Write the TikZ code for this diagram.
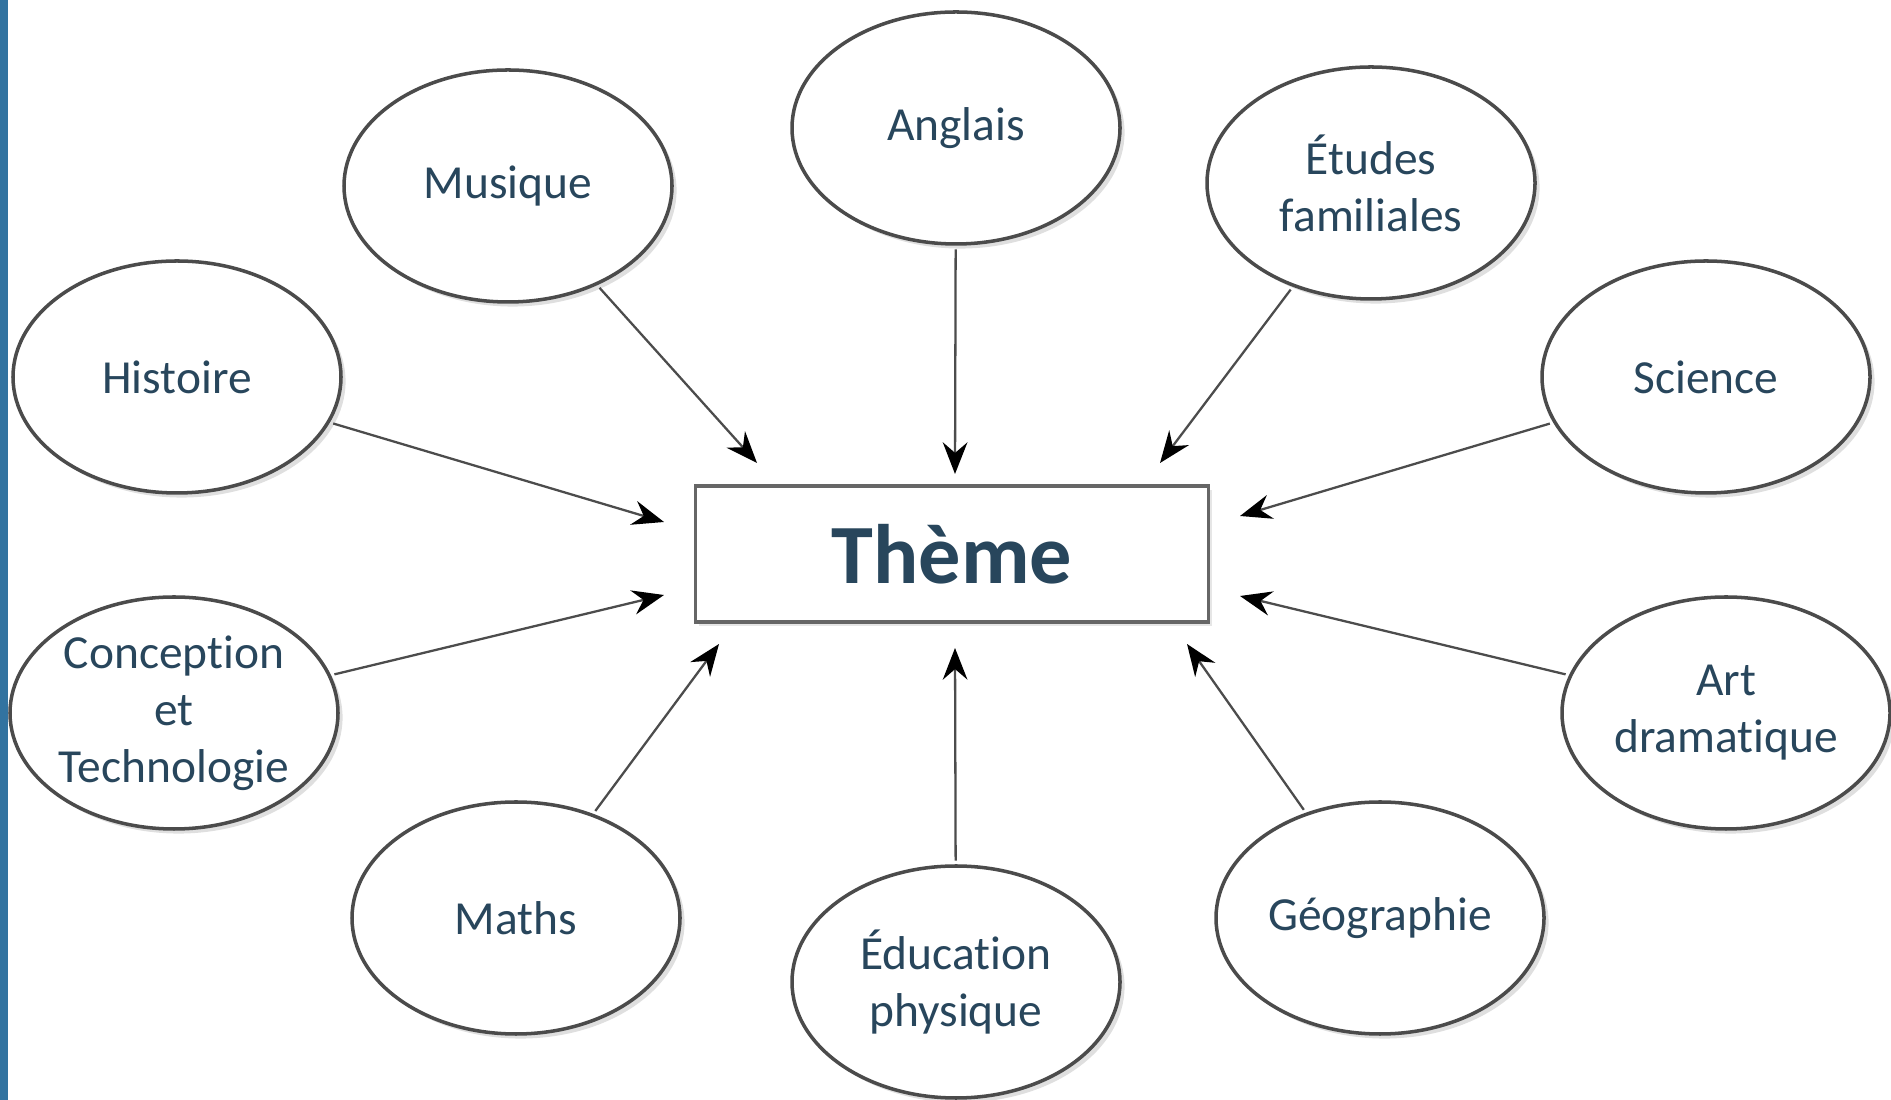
\documentclass[tikz,border=0pt]{standalone}
\usepackage{fontspec}
\setmainfont{Carlito}[RawFeature={-liga;-calt;-dlig}]
\usetikzlibrary{positioning,calc,shapes.geometric,arrows.meta,shadows}
\definecolor{texte}{RGB}{40,70,92}
\definecolor{bord}{RGB}{75,75,75}
\definecolor{barre}{RGB}{50,115,160}
\tikzset{
	matiere/.style={ellipse,draw=bord,line width=1pt,fill=white,minimum width=3.28cm,minimum height=2.32cm,inner sep=0pt,align=center,text=texte,font=\fontsize{13.5}{16.2}\selectfont,drop shadow={shadow xshift=1.3pt,shadow yshift=-1.3pt,opacity=0.25}},
	fleche/.style={draw=black!70,line width=0.65pt,-{Stealth[length=9pt,width=7pt,inset=3pt,color=black]},shorten <=1pt},
}
\begin{document}
\begin{tikzpicture}
		\useasboundingbox (0,0) rectangle (18.91,11);
		\fill[barre] (0,0) rectangle (0.08,11);
		
		\node[draw=black!60,line width=1pt,fill=white,minimum width=5.13cm,minimum height=1.36cm,text=texte,font=\bfseries\fontsize{24}{28}\selectfont,drop shadow={shadow xshift=1pt,shadow yshift=-1pt,opacity=0.2}] (th) at (9.52,5.46) {Thème};
		
		\node[matiere] (ang) at (9.56,9.72) {Anglais};
		\node[matiere] (mus) at (5.08,9.14) {Musique};
		\node[matiere] (etu) at (13.71,9.17) {Études\\familiales};
		\node[matiere] (his) at (1.77,7.23) {Histoire};
		\node[matiere] (sci) at (17.06,7.23) {Science};
		\node[matiere] (con) at (1.74,3.87) {Conception\\et\\Technologie};
		\node[matiere] (art) at (17.26,3.87) {Art\\dramatique};
		\node[matiere] (mat) at (5.16,1.82) {Maths};
		\node[matiere] (edu) at (9.56,1.18) {Éducation\\physique};
		\node[matiere] (geo) at (13.80,1.82) {Géographie};
		
		% pointes des fleches autour du theme
		\coordinate (pang) at (9.55,6.26);
		\coordinate (pmus) at (7.57,6.37);
		\coordinate (petu) at (11.60,6.37);
		\coordinate (phis) at (6.64,5.78);
		\coordinate (psci) at (12.40,5.84);
		\coordinate (pcon) at (6.64,5.05);
		\coordinate (part) at (12.40,5.04);
		\coordinate (pmat) at (7.19,4.56);
		\coordinate (pedu) at (9.55,4.52);
		\coordinate (pgeo) at (11.87,4.56);
		
		\draw[fleche] (ang)--(pang);
		\draw[fleche] (mus)--(pmus);
		\draw[fleche] (etu)--(petu);
		\draw[fleche] (his)--(phis);
		\draw[fleche] (sci)--(psci);
		\draw[fleche] (con)--(pcon);
		\draw[fleche] (art)--(part);
		\draw[fleche] (mat)--(pmat);
		\draw[fleche] (edu)--(pedu);
		\draw[fleche] (geo)--(pgeo);
	\end{tikzpicture}
\end{document}
